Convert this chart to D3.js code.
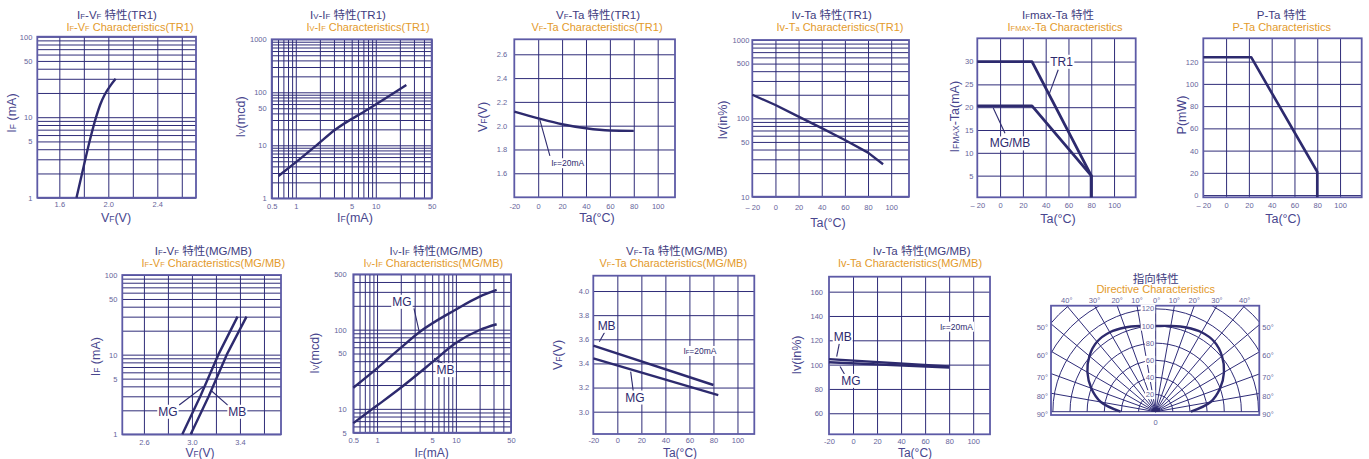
<!DOCTYPE html>
<html><head><meta charset="utf-8">
<script src="https://cdn.jsdelivr.net/npm/d3@7"></script>
<style>
body{margin:0;background:#fff;}
svg{display:block;}
</style></head><body>
<svg id="c" width="1369" height="459"></svg>
<script>
// ================= DATA =================
// TR1 series  [x, y]
const tr1_IfVf = [[1.74,1],[1.80,2.5],[1.86,6],[1.90,10],[1.935,14.5],[1.97,19],[2.02,25],[2.06,30]];
const tr1_IvIf = [[0.61,2.64],[0.97,4.6],[1.9,10.6],[3.07,19.4],[8,47.8],[14.2,82.6],[24.1,137]];
const tr1_VfTa = [[-20,2.118],[0,2.062],[20,2.012],[40,1.978],[60,1.959],[80,1.956]];
const tr1_IvTa = [[-20,200],[0,148],[20,105],[40,75],[60,53],[80,36.5],[93,26]];
const ifmax_TR1 = [[-20,30],[28,30],[80,5],[80,0.25]];
const ifmax_MGMB = [[-20,20.3],[28,20.3],[80,5],[80,0.25]];
const pTa = [[-20,124],[22,124],[80,21],[80,-2]];
// MG / MB series
const mg_IfVf = [[2.92,1],[3.07,3],[3.22,10],[3.38,30]];
const mb_IfVf = [[2.99,1],[3.14,3],[3.29,10],[3.455,30]];
const mg_IvIf = [[0.5,18.5],[1,32.5],[1.96,58],[3.5,94],[9.75,177],[20,261],[32.9,317]];
const mb_IvIf = [[0.5,6.6],[1,11],[1.96,18.2],[5.2,40],[9.75,67],[20,99],[32.9,117]];
const mg_VfTa = [[-20,3.442],[84,3.138]];
const mb_VfTa = [[-20,3.547],[80,3.221]];
const mg_IvTa = [[-20,102],[80,97.5]];
const mb_IvTa = [[-20,104.5],[80,98.5]];
// Directive characteristics
const dirAngles = [-90,-80,-70,-60,-50,-40,-30,-20,-10,0,10,20,30,40,50,60,70,80,90];
const dirValues = [41,65,80,92,101,106.5,107,104.5,101.5,100,101.5,104.5,107,106.5,101,92,80,65,41];
const dirRings = [20,40,60,80,100,120,140,160];
const dirRingLabels = [20,40,60,80,100,120];
const dirTopAngles = [-40,-30,-20,-10,0,10,20,30,40];
const dirSideAngles = [50,60,70,80,90];

// tick labels
const ifTicks = [1,5,10,50,100];
const vfTicksTR1 = [1.6,2.0,2.4];
const ivTicksTR1 = [1,10,50,100,1000];
const ifLogTicks = [0.5,1,5,10,50];
const taTicks = [-20,0,20,40,60,80,100];
const taTextDash = ['– 20','0','20','40','60','80','100'];
const taTextHyph = ['-20','0','20','40','60','80','100'];
const vfTaTicksTR1 = [1.6,1.8,2.0,2.2,2.4,2.6];
const ivTaTicksTR1 = [10,50,100,500,1000];
const ifmaxTicks = [5,10,15,20,25,30];
const pTicks = [0,20,40,60,80,100,120];
const vfTicksMG = [2.6,3.0,3.4];
const ivTicksMG = [5,10,50,100,500];
const vfTaTicksMG = [3.0,3.2,3.4,3.6,3.8,4.0];
const ivTaTicksMG = [60,80,100,120,140,160];

// ================= STYLE =================
const FONT = '"Liberation Sans", Arial, "Noto Sans CJK SC", sans-serif';
const GRID='#2f2c78', FRAME='#5d5aa6', CURVE='#2d2a6e', TITLE='#3e3c80', SUB='#e39a2b', AXL='#48468e', TICK='#66649a';

const svg = d3.select('#c').attr('font-family', FONT);

function logGrid(a, b) {
  const out = [];
  for (let e = Math.floor(Math.log10(a)); e <= Math.ceil(Math.log10(b)); e++)
    for (let m = 1; m < 10; m++) {
      const v = +(m * Math.pow(10, e)).toPrecision(6);
      if (v >= a * 0.999 && v <= b * 1.001) out.push(v);
    }
  return out;
}
function rich(sel, str, size) {
  str.split(/(_\{[^}]*\})/).forEach(p => {
    if (!p) return;
    if (p.startsWith('_{')) sel.append('tspan').attr('font-size', size * 0.68).text(p.slice(2, -1));
    else sel.append('tspan').attr('font-size', size).text(p);
  });
  return sel;
}
function bgLabel(g, str, x, y, size, anchor, color) {
  const t = g.append('text').attr('x', x).attr('y', y).attr('text-anchor', anchor || 'middle')
    .attr('dy', '0.35em').attr('fill', color || CURVE).attr('font-size', size);
  rich(t, str, size);
  const b = t.node().getBBox();
  g.insert('rect', () => t.node()).attr('x', b.x - 1).attr('y', b.y).attr('width', b.width + 2)
    .attr('height', b.height).attr('fill', '#fff');
  return t;
}

function drawPanel(p) {
  const g = svg.append('g');
  const x = (p.xLog ? d3.scaleLog() : d3.scaleLinear()).domain(p.xDom).range([p.L, p.R]);
  const y = (p.yLog ? d3.scaleLog() : d3.scaleLinear()).domain(p.yDom).range([p.B, p.T]);
  const w = p.R - p.L, h = p.B - p.T;
  // grid
  const gx = g.append('g').attr('transform', `translate(0,${p.B})`)
    .call(d3.axisBottom(x).tickValues(p.xGrid).tickSize(-h).tickFormat(''));
  gx.select('.domain').remove();
  gx.selectAll('line').attr('stroke', GRID).attr('stroke-width', 1);
  const gy = g.append('g').attr('transform', `translate(${p.L},0)`)
    .call(d3.axisLeft(y).tickValues(p.yGrid).tickSize(-w).tickFormat(''));
  gy.select('.domain').remove();
  gy.selectAll('line').attr('stroke', GRID).attr('stroke-width', 1);
  // frame
  g.append('rect').attr('x', p.L).attr('y', p.T).attr('width', w).attr('height', h)
    .attr('fill', 'none').attr('stroke', FRAME).attr('stroke-width', 1.8);
  // tick labels
  const lx = g.append('g').attr('transform', `translate(0,${p.B})`)
    .call(d3.axisBottom(x).tickValues(p.xTicks).tickSize(0).tickPadding(p.xPad)
      .tickFormat(p.xText ? ((d, i) => p.xText[i]) : (p.xFmt ? d3.format(p.xFmt) : (d => String(d)))));
  lx.select('.domain').remove();
  lx.selectAll('text').attr('font-size', 7.5).attr('fill', TICK).attr('font-family', FONT);
  const ly = g.append('g').attr('transform', `translate(${p.L},0)`)
    .call(d3.axisLeft(y).tickValues(p.yTicks).tickSize(0).tickPadding(p.yPad)
      .tickFormat(p.yFmt ? d3.format(p.yFmt) : (d => String(d))));
  ly.select('.domain').remove();
  ly.selectAll('text').attr('font-size', 7.5).attr('fill', TICK).attr('font-family', FONT);
  // series
  p.series.forEach(s => {
    g.append('path').datum(s.data)
      .attr('d', d3.line().x(d => x(d[0])).y(d => y(d[1])).curve(s.curve || d3.curveMonotoneX))
      .attr('fill', 'none').attr('stroke', CURVE).attr('stroke-width', s.sw || 2.4)
      .attr('stroke-linejoin', 'round');
  });
  // leaders
  (p.leaders || []).forEach(l => {
    g.append('line').attr('x1', x(l[0][0])).attr('y1', y(l[0][1]))
      .attr('x2', x(l[1][0])).attr('y2', y(l[1][1]))
      .attr('stroke', CURVE).attr('stroke-width', 1.1);
  });
  // labels
  (p.labels || []).forEach(l => bgLabel(g, l.t, x(l.x), y(l.y), l.size || 12, l.anchor || 'middle'));
  // titles
  rich(g.append('text').attr('x', p.title[1]).attr('y', p.title[2]).attr('text-anchor', 'middle')
    .attr('fill', TITLE), p.title[0], 11.5);
  rich(g.append('text').attr('x', p.sub[1]).attr('y', p.sub[2]).attr('text-anchor', 'middle')
    .attr('fill', SUB), p.sub[0], 11);
  // axis titles
  const xs = p.xLabSize || 12.5;
  rich(g.append('text').attr('x', p.xLab[1]).attr('y', p.xLab[2]).attr('text-anchor', 'middle')
    .attr('fill', AXL), p.xLab[0], xs);
  rich(g.append('text').attr('transform', `translate(${p.yLab[1]},${p.yLab[2]}) rotate(-90)`)
    .attr('text-anchor', 'middle').attr('dy', '0.35em').attr('fill', AXL), p.yLab[0], 12.5);
}

const ta = [0,20,40,60,80,100];

const panels = [
  { L:37.3, R:196, T:36.7, B:197.7, xDom:[1.42,2.716], yLog:true, yDom:[1,100],
    xGrid:[1.6,1.8,2.0,2.2,2.4,2.6], yGrid:logGrid(1,100), xTicks:vfTicksTR1, xFmt:'.1f', yTicks:ifTicks,
    xPad:4, yPad:5, series:[{data:tr1_IfVf}],
    title:['I_{F}-V_{F} 特性(TR1)',117,18.5], sub:['I_{F}-V_{F} Characteristics(TR1)',130,30.5],
    xLab:['V_{F}(V)',116,222], yLab:['I_{F} (mA)',10,113] },
  { L:271.7, R:431.7, T:39.3, B:198.3, xLog:true, xDom:[0.5,50], yLog:true, yDom:[1,1000],
    xGrid:logGrid(0.5,50), yGrid:logGrid(1,1000), xTicks:ifLogTicks, yTicks:ivTicksTR1,
    xPad:5, yPad:5, series:[{data:tr1_IvIf}],
    title:['I_{V}-I_{F} 特性(TR1)',348,18.5], sub:['I_{V}-I_{F} Characteristics(TR1)',368,30.5],
    xLab:['I_{F}(mA)',355,222], yLab:['I_{V}(mcd)',239,117] },
  { L:514.3, R:675, T:39.3, B:197.3, xDom:[-20,114.5], yDom:[1.398,2.726],
    xGrid:ta, yGrid:vfTaTicksTR1, xTicks:taTicks, xText:taTextHyph, yTicks:vfTaTicksTR1, yFmt:'.1f',
    xPad:6, yPad:7, series:[{data:tr1_VfTa}],
    leaders:[[[1.4,2.048],[9.8,1.746]]],
    labels:[{t:'I_{F}=20mA', x:24.7, y:1.684, size:8.5}],
    title:['V_{F}-Ta 特性(TR1)',598,18.5], sub:['V_{F}-Ta Characteristics(TR1)',597,30.5],
    xLab:['Ta(°C)',597,222], yLab:['V_{F}(V)',481.7,117] },
  { L:752.3, R:909, T:40, B:196.7, xDom:[-20,115.4], yLog:true, yDom:[10,1000],
    xGrid:ta, yGrid:logGrid(10,1000), xTicks:taTicks, xText:taTextDash, yTicks:ivTaTicksTR1,
    xPad:8, yPad:3, series:[{data:tr1_IvTa, curve:d3.curveLinear}],
    title:['Iv-Ta 特性(TR1)',831.7,18.5], sub:['Iv-T_{a} Characteristics(TR1)',840,30.5],
    xLab:['Ta(°C)',828,227], yLab:['Iv(in%)',721.7,120] },
  { L:977.3, R:1135.7, T:38.3, B:197.3, xDom:[-20,119], yDom:[0.25,35.1],
    xGrid:ta, yGrid:ifmaxTicks, xTicks:taTicks, xText:taTextDash, yTicks:ifmaxTicks,
    xPad:5, yPad:4,
    series:[{data:ifmax_TR1, curve:d3.curveLinear, sw:2.8},{data:ifmax_MGMB, curve:d3.curveLinear, sw:2.8}],
    leaders:[[[51,28.2],[43,22.8]],[[-6,19.8],[4.3,14.3]]],
    labels:[{t:'TR1', x:54, y:30},{t:'MG/MB', x:8.7, y:12.1}],
    title:['I_{F}max-Ta 特性',1058,18.5], sub:['I_{FMAX}-Ta Characteristics',1065,30.5],
    xLab:['Ta(°C)',1058,222.7], yLab:['I_{FMAX}-Ta(mA)',953,116.7] },
  { L:1203.3, R:1361.7, T:38.3, B:197.3, xDom:[-20,119], yDom:[-2,141],
    xGrid:ta, yGrid:pTicks, xTicks:taTicks, xText:taTextDash, yTicks:pTicks,
    xPad:5, yPad:5, series:[{data:pTa, curve:d3.curveLinear, sw:2.6}],
    title:['P-Ta 特性',1281.7,18.5], sub:['P-Ta Characteristics',1281.7,30.5],
    xLab:['Ta(°C)',1283,222.7], yLab:['P(mW)',1180,115] },
  { L:122.3, R:281, T:275, B:434.3, xDom:[2.42,3.742], yLog:true, yDom:[1,100],
    xGrid:[2.6,2.8,3.0,3.2,3.4,3.6], yGrid:logGrid(1,100), xTicks:vfTicksMG, xFmt:'.1f', yTicks:ifTicks,
    xPad:5, yPad:5,
    series:[{data:mg_IfVf, curve:d3.curveLinear},{data:mb_IfVf, curve:d3.curveLinear}],
    leaders:[[[2.894,2.33],[3.094,3.96]],[[3.303,2.29],[3.164,3.5]]],
    labels:[{t:'MG', x:2.80, y:1.93},{t:'MB', x:3.378, y:1.93}],
    title:['I_{F}-V_{F} 特性(MG/MB)',203.3,254.5], sub:['I_{F}-V_{F} Characteristics(MG/MB)',213.3,266.5],
    xLab:['V_{F}(V)',200,456.5], xLabSize:12, yLab:['I_{F} (mA)',94,356.7] },
  { L:353.3, R:511, T:274.3, B:432.7, xLog:true, xDom:[0.5,50], yLog:true, yDom:[5,500],
    xGrid:logGrid(0.5,50), yGrid:logGrid(5,500), xTicks:ifLogTicks, yTicks:ivTicksMG,
    xPad:5, yPad:6.6, series:[{data:mg_IvIf},{data:mb_IvIf}],
    leaders:[[[2.94,186],[3.43,94]],[[5.3,43.5],[7.06,36.5]]],
    labels:[{t:'MG', x:2.07, y:226},{t:'MB', x:7.4, y:31}],
    title:['I_{V}-I_{F} 特性(MG/MB)',436,254.5], sub:['I_{V}-I_{F} Characteristics(MG/MB)',433.3,266.5],
    xLab:['I_{F}(mA)',431.7,456.5], xLabSize:12, yLab:['I_{V}(mcd)',313.3,353.3] },
  { L:593.3, R:754.3, T:275.7, B:434, xDom:[-20,114], yDom:[2.815,4.127],
    xGrid:ta, yGrid:vfTaTicksMG, xTicks:taTicks, xText:taTextHyph, yTicks:vfTaTicksMG, yFmt:'.1f',
    xPad:4, yPad:4,
    series:[{data:mg_VfTa, curve:d3.curveLinear},{data:mb_VfTa, curve:d3.curveLinear}],
    leaders:[[[-15,3.58],[-10.3,3.663]],[[11.1,3.332],[13.3,3.166]]],
    labels:[{t:'MB', x:-8.9, y:3.713},{t:'MG', x:14.7, y:3.119},{t:'I_{F}=20mA', x:55, y:3.503, size:8.5, anchor:'start'}],
    title:['V_{F}-Ta 特性(MG/MB)',676.7,254.5], sub:['V_{F}-Ta Characteristics(MG/MB)',673.3,266.5],
    xLab:['Ta(°C)',680,456.8], xLabSize:12, yLab:['V_{F}(V)',556.7,355] },
  { L:829, R:990, T:276.7, B:434.3, xDom:[-20,114], yDom:[42.7,172.3],
    xGrid:ta, yGrid:ivTaTicksMG, xTicks:taTicks, xText:taTextHyph, yTicks:ivTaTicksMG,
    xPad:4, yPad:6,
    series:[{data:mg_IvTa, curve:d3.curveLinear},{data:mb_IvTa, curve:d3.curveLinear}],
    leaders:[[[-11.4,117.5],[-13.6,106.6]],[[-10.8,98.4],[-6.7,91.5]]],
    labels:[{t:'MB', x:-8.6, y:123},{t:'MG', x:-1.7, y:86.8},{t:'I_{F}=20mA', x:86.1, y:131.2, size:8.5}],
    title:['Iv-Ta 特性(MG/MB)',921.7,254.5], sub:['Iv-Ta Characteristics(MG/MB)',910,266.5],
    xLab:['Ta(°C)',915,456.8], xLabSize:12, yLab:['Iv(in%)',795,355] }
];
panels.forEach(drawPanel);

// ================= DIRECTIVE =================
(function () {
  const L = 1051, R = 1259.3, T = 305.7, B = 415, cx = 1155.7, cy = 411.7;
  const r = d3.scaleLinear().domain([0, 100]).range([0, 85.7]);
  const g = svg.append('g');
  svg.append('defs').append('clipPath').attr('id', 'dclip')
    .append('rect').attr('x', L).attr('y', T).attr('width', R - L).attr('height', B - T);
  const gg = g.append('g').attr('clip-path', 'url(#dclip)');
  dirRings.forEach(v => {
    const pth = d3.path();
    pth.arc(cx, cy, r(v), -Math.PI, 0);
    gg.append('path').attr('d', pth.toString()).attr('fill', 'none').attr('stroke', GRID).attr('stroke-width', 1);
  });
  d3.range(-90, 91, 10).forEach(a => {
    const t = a * Math.PI / 180;
    gg.append('line').attr('x1', cx).attr('y1', cy)
      .attr('x2', cx + r(200) * Math.sin(t)).attr('y2', cy - r(200) * Math.cos(t))
      .attr('stroke', GRID).attr('stroke-width', 1);
  });
  gg.append('path').attr('d', d3.arc().innerRadius(0).outerRadius(4.5).startAngle(-Math.PI / 2).endAngle(Math.PI / 2)())
    .attr('transform', `translate(${cx},${cy})`).attr('fill', CURVE);
  // curve
  const pts = dirAngles.map((a, i) => [a, dirValues[i]]);
  g.append('path').datum(pts)
    .attr('d', d3.lineRadial().angle(d => d[0] * Math.PI / 180).radius(d => r(d[1])).curve(d3.curveCatmullRom))
    .attr('transform', `translate(${cx},${cy})`)
    .attr('fill', 'none').attr('stroke', CURVE).attr('stroke-width', 2.4);
  g.append('rect').attr('x', L).attr('y', T).attr('width', R - L).attr('height', B - T)
    .attr('fill', 'none').attr('stroke', FRAME).attr('stroke-width', 1.8);
  // ring labels
  dirRingLabels.forEach(v => bgLabel(g, String(v), cx - 1.5, cy - r(v), 7.5, 'end', TICK));
  g.append('text').attr('x', cx).attr('y', cy + 13).attr('text-anchor', 'middle')
    .attr('font-size', 7.5).attr('fill', TICK).text('0');
  // angle labels
  dirTopAngles.forEach(a => {
    const xx = cx + (cy - T) * Math.tan(a * Math.PI / 180) + (a === 0 ? 1 : 0);
    g.append('text').attr('x', xx).attr('y', T - 3).attr('text-anchor', 'middle')
      .attr('font-size', 7.5).attr('fill', TICK).text(Math.abs(a) + '°');
  });
  dirSideAngles.forEach(a => {
    const yy = cy - (R - cx) / Math.tan(a * Math.PI / 180) + 3;
    g.append('text').attr('x', L - 3).attr('y', yy).attr('dy', '0.35em').attr('text-anchor', 'end')
      .attr('font-size', 7.5).attr('fill', TICK).text(a + '°');
    g.append('text').attr('x', R + 3).attr('y', yy).attr('dy', '0.35em').attr('text-anchor', 'start')
      .attr('font-size', 7.5).attr('fill', TICK).text(a + '°');
  });
  g.append('text').attr('x', cx).attr('y', 283).attr('text-anchor', 'middle')
    .attr('font-size', 11.5).attr('fill', TITLE).text('指向特性');
  g.append('text').attr('x', cx).attr('y', 293).attr('text-anchor', 'middle')
    .attr('font-size', 11).attr('fill', SUB).text('Directive Characteristics');
})();
</script>
</body></html>
